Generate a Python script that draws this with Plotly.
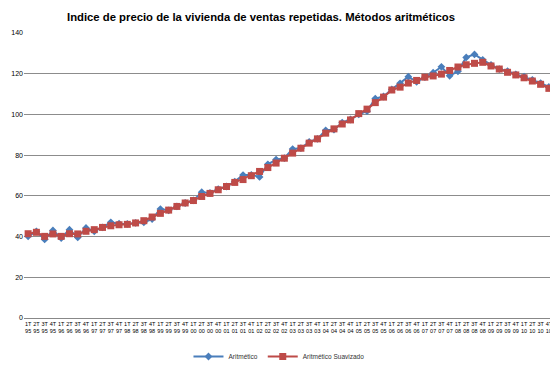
import plotly.graph_objects as go

quarters = ["1T", "2T", "3T", "4T"]
years = ["95", "96", "97", "98", "99", "00", "01", "02", "03", "04", "05", "06", "07", "08", "09", "10"]
categories = [f"{q} {y}" for y in years for q in quarters]
tick_text = [f"{q}<br>{y}" for y in years for q in quarters]

aritmetico = [
    40.1, 42.6, 38.6, 43.0, 39.3, 43.4, 39.6, 44.2,
    42.6, 44.5, 47.0, 46.3, 46.2, 46.7, 47.0, 48.6,
    53.5, 52.9, 54.8, 56.5, 57.8, 61.8, 61.4, 63.3,
    64.6, 67.0, 70.2, 70.3, 69.3, 75.5, 77.8, 78.5,
    83.0, 83.4, 86.5, 88.0, 92.2, 92.5, 96.0, 97.5,
    100.0, 101.6, 107.8, 108.8, 112.3, 115.3, 118.5, 116.0,
    118.3, 120.5, 123.4, 119.0, 121.2, 128.0, 129.5, 126.8,
    124.3, 122.3, 121.2, 119.7, 118.5, 117.0, 115.4, 113.5,
]
suavizado = [
    41.4, 42.1, 40.1, 41.3, 40.1, 41.4, 41.3, 42.6,
    43.4, 44.5, 45.3, 45.8, 46.0, 46.7, 47.8, 49.6,
    51.4, 53.0, 54.8, 56.5, 57.7, 59.7, 61.2, 63.0,
    64.6, 66.6, 68.0, 69.9, 72.0, 73.9, 76.1, 78.5,
    81.0, 83.4, 85.9, 88.0, 90.8, 92.9, 95.3, 97.3,
    100.4, 102.6, 105.8, 108.5, 112.0, 113.4, 115.4, 116.7,
    118.3, 118.9, 119.8, 121.6, 123.3, 124.4, 125.1, 125.6,
    123.8, 122.3, 120.7, 119.4, 118.0, 116.4, 114.8, 112.8,
]
y_ticks = [0, 20, 40, 60, 80, 100, 120, 140]

blue = "#4a7ebb"
red = "#be4b48"

fig = go.Figure()
fig.add_trace(go.Scatter(
    x=categories, y=aritmetico, name="Aritmético", mode="lines+markers",
    line=dict(color=blue, width=2),
    marker=dict(symbol="diamond", size=6, color=blue),
))
fig.add_trace(go.Scatter(
    x=categories, y=suavizado, name="Aritmético Suavizado", mode="lines+markers",
    line=dict(color=red, width=2),
    marker=dict(symbol="square", size=7, color=red),
))

# the page body adds an 8px offset, so the figure is sized 550x361
fig.update_layout(
    width=550, height=361,
    margin=dict(l=16, r=5, t=25, b=50.5, autoexpand=False),
    paper_bgcolor="white", plot_bgcolor="white",
    title=dict(
        text="<b>Indice de precio de la vivienda de ventas repetidas. Métodos aritméticos</b>",
        x=0.46, xanchor="center", xref="container", y=0.975, yref="container", yanchor="middle",
        font=dict(family="Liberation Sans, Arial", size=11.3, color="#000000"),
        automargin=False,
    ),
    showlegend=True,
    legend=dict(
        orientation="h", x=0.482, xanchor="center", y=-0.135, yanchor="middle",
        font=dict(family="Liberation Sans, Arial", size=6.5, color="#333333"),
        itemwidth=30,
    ),
    font=dict(family="Liberation Sans, Arial", color="#000000"),
)
fig.update_xaxes(
    type="category", categoryorder="array", categoryarray=categories,
    tickmode="array", tickvals=categories, ticktext=tick_text,
    tickangle=0, tickfont=dict(size=5.5, color="#000000"),
    showgrid=False, showline=True, linecolor="#888888", linewidth=1,
    ticks="", range=[-0.5, 63.5], fixedrange=True, automargin=False,
)
fig.update_yaxes(
    range=[0, 140], tickmode="array", tickvals=y_ticks,
    tickfont=dict(size=7, color="#000000"),
    showgrid=True, gridcolor="#8c8c8c", gridwidth=1,
    zeroline=False, showline=False, ticks="", automargin=False,
)

fig.write_html("out.html")
